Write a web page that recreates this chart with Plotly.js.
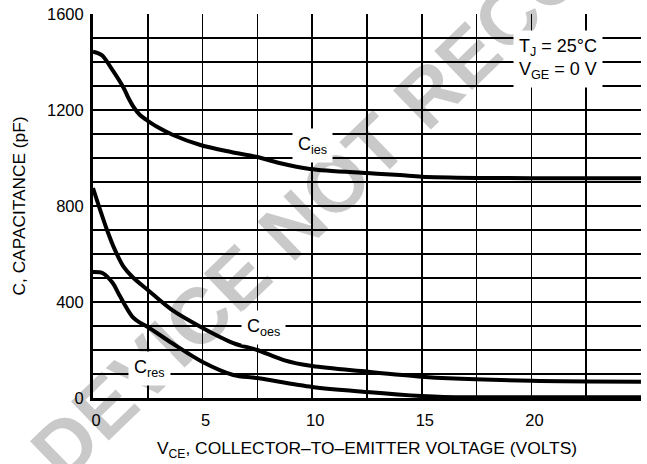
<!DOCTYPE html>
<html>
<head>
<meta charset="utf-8">
<script src="https://cdn.plot.ly/plotly-3.0.1.min.js"></script>
<style>
html,body{margin:0;padding:0;background:#fff;overflow:hidden;}
#wrap{position:relative;width:647px;height:464px;}
#wm{position:absolute;left:0;top:0;z-index:0;}
#chart{position:absolute;left:0;top:0;width:647px;height:464px;z-index:1;}
</style>
</head>
<body>
<div id="wrap">
<svg id="wm" width="647" height="464">
  <text x="64" y="484" transform="rotate(-44 64 484)" font-family="Liberation Sans, Arial, sans-serif" font-weight="bold" font-size="79" fill="#c9c9c9">DEVICE NOT RECOMMENDED FOR NEW DESIGN</text>
</svg>
<div id="chart"></div>
</div>
<script>
const ciesV = [0, 0.4, 0.8, 1.4, 1.6, 1.84, 2.14, 2.45, 2.9, 3.65, 4.9, 6.3, 7.5, 8.5, 9.9, 12.5, 14, 15, 17.5, 20, 25];
const ciesC = [1443, 1429, 1379, 1292, 1253, 1214, 1179, 1158, 1131, 1096, 1054, 1025, 1004, 979, 954, 937, 929, 922, 917, 916, 916];
const coesV = [0, 0.64, 1.0, 1.4, 1.8, 2.5, 3.6, 5, 6.4, 7.5, 8.7, 10, 12.5, 15, 16.2, 20, 25];
const coesC = [875, 700, 617, 546, 504, 450, 367, 292, 229, 200, 158, 133, 110, 89, 82, 72, 68];
const cresV = [0, 0.45, 0.9, 1.2, 1.8, 2.14, 2.5, 3.6, 5, 6.4, 7.5, 10, 12.5, 15, 16, 20, 25];
const cresC = [525, 520, 479, 429, 338, 314, 296, 229, 150, 96, 83, 46, 25, 8, 4, 3, 3];
const xTicks = [0, 5, 10, 15, 20, 25];
const yTicks = [0, 400, 800, 1200, 1600];

const FONT = '"Liberation Sans", Arial, Helvetica, sans-serif';
const lineStyle = {color: '#000', width: 4, shape: 'spline', smoothing: 0.9};
const traces = [
  {x: ciesV, y: ciesC, mode: 'lines', line: lineStyle, name: 'Cies', showlegend: false, hoverinfo: 'skip'},
  {x: coesV, y: coesC, mode: 'lines', line: lineStyle, name: 'Coes', showlegend: false, hoverinfo: 'skip'},
  {x: cresV, y: cresC, mode: 'lines', line: lineStyle, name: 'Cres', showlegend: false, hoverinfo: 'skip'}
];
const labFont = {family: FONT, size: 18, color: '#000'};
const layout = {
  width: 647, height: 464,
  margin: {l: 93, r: 6, t: 14, b: 66},
  paper_bgcolor: 'rgba(0,0,0,0)', plot_bgcolor: 'rgba(0,0,0,0)',
  font: {family: FONT, color: '#000', size: 16.5},
  xaxis: {
    range: [0, 25], tickvals: xTicks, ticktext: xTicks.map(String),
    showgrid: true, gridcolor: '#000', gridwidth: 1.7,
    minor: {dtick: 2.5, tick0: 0, showgrid: true, gridcolor: '#000', gridwidth: 1.7},
    showline: true, linecolor: '#000', linewidth: 3, zeroline: false,
    ticks: '', ticklabelshift: 3, ticklabelstandoff: 5,
    tickfont: {family: FONT, size: 16.5},
    title: {text: 'V<sub>CE</sub>, COLLECTOR–TO–EMITTER VOLTAGE (VOLTS)', font: {family: FONT, size: 17.4}, standoff: 15}
  },
  yaxis: {
    range: [0, 1600], tickvals: yTicks, ticktext: yTicks.map(String),
    showgrid: true, gridcolor: '#000', gridwidth: 1.7,
    minor: {dtick: 100, tick0: 0, showgrid: true, gridcolor: '#000', gridwidth: 1.7},
    showline: true, linecolor: '#000', linewidth: 3, zeroline: false,
    ticks: '', ticklabelstandoff: 3,
    tickfont: {family: FONT, size: 16.5},
    title: {text: 'C, CAPACITANCE (pF)', font: {family: FONT, size: 17.3}, standoff: 17}
  },
  annotations: [
    {x: 10.0, y: 1054, xref: 'x', yref: 'y', text: 'C<sub>ies</sub>', showarrow: false, font: labFont, bgcolor: '#fff', borderpad: 5},
    {x: 7.8, y: 292, xref: 'x', yref: 'y', text: 'C<sub>oes</sub>', showarrow: false, font: labFont, bgcolor: '#fff', borderpad: 5},
    {x: 2.6, y: 125, xref: 'x', yref: 'y', text: 'C<sub>res</sub>', showarrow: false, font: labFont, bgcolor: '#fff', borderpad: 5},
    {x: 21.2, y: 1412, xref: 'x', yref: 'y', xanchor: 'center', yanchor: 'middle', text: 'T<sub>J</sub> = 25°C<br>V<sub>GE</sub> = 0 V', align: 'left', showarrow: false, font: labFont, bgcolor: '#fff', borderpad: 5}
  ]
};
Plotly.newPlot('chart', traces, layout, {displayModeBar: false, staticPlot: true});
</script>
</body>
</html>
